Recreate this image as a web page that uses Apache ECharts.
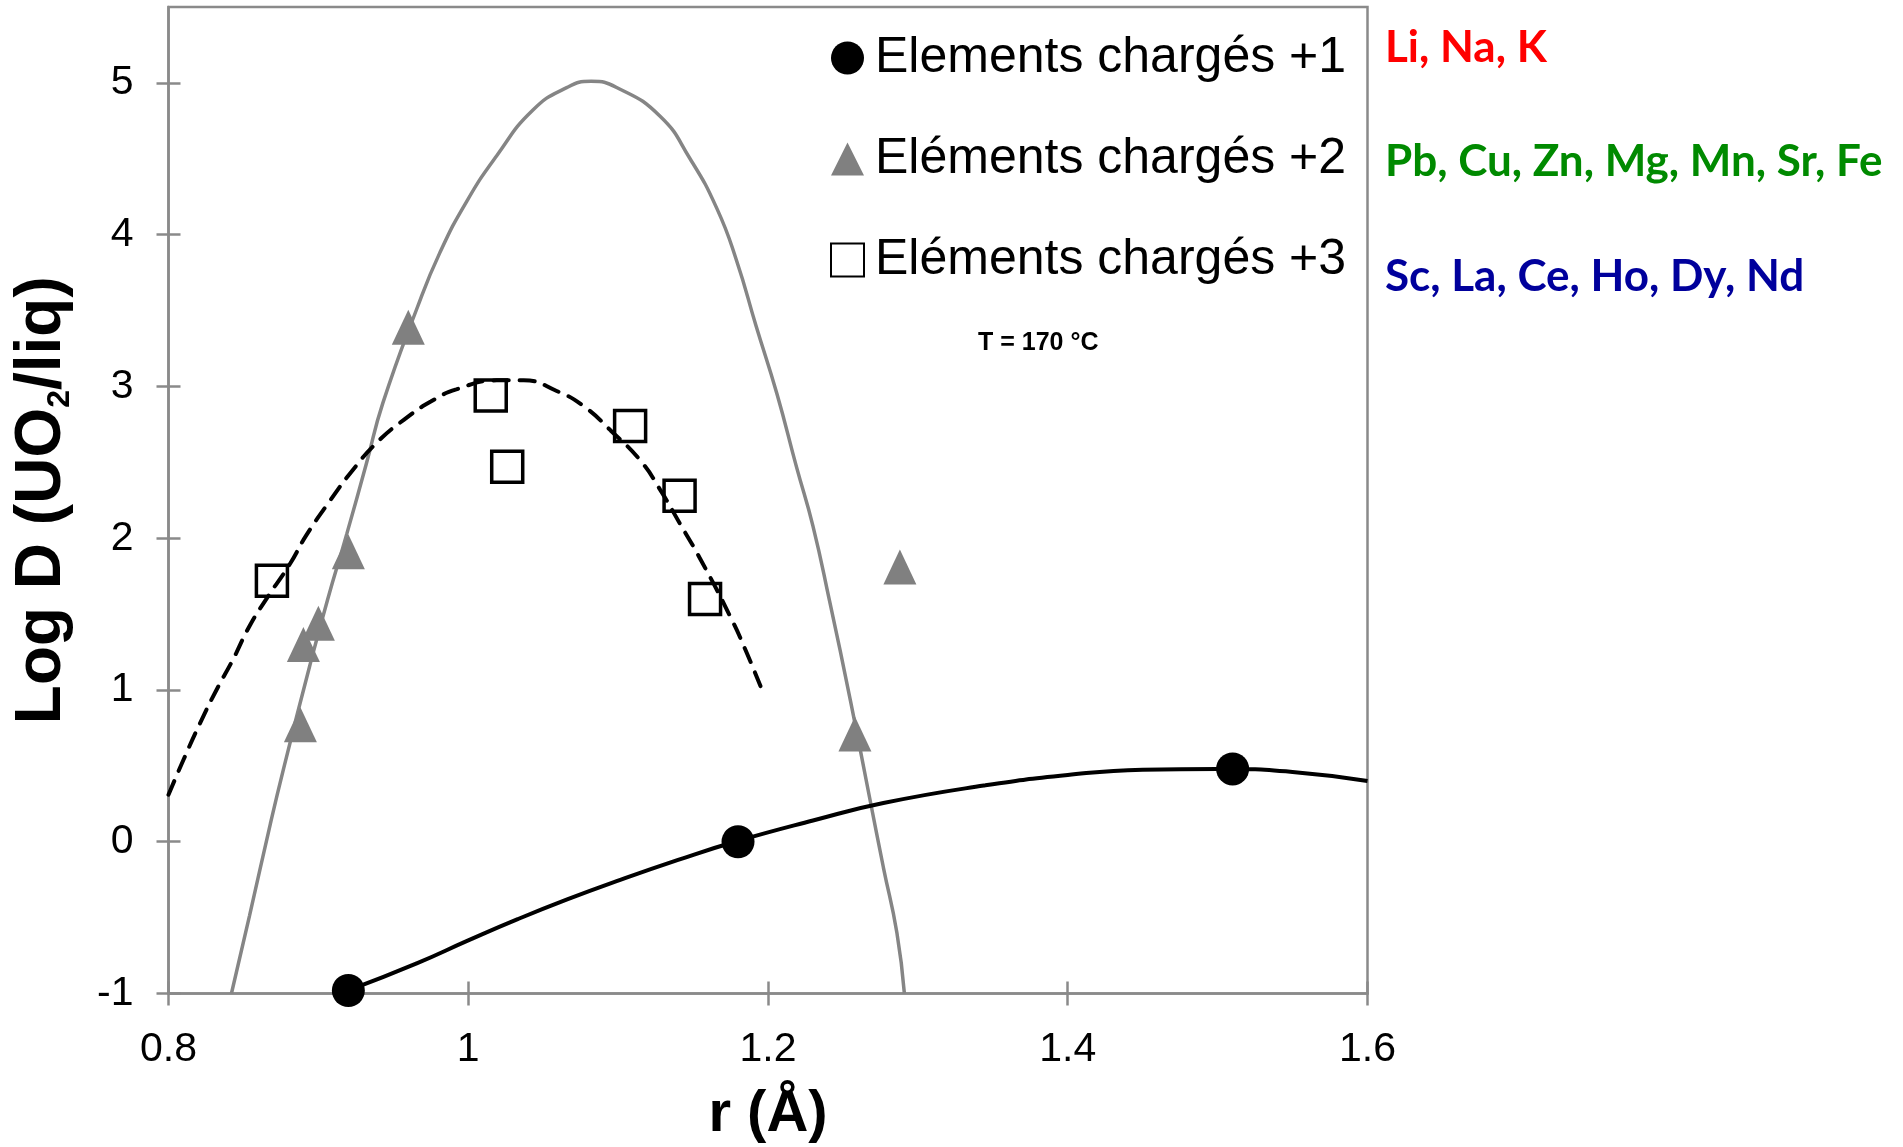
<!DOCTYPE html>
<html>
<head>
<meta charset="utf-8">
<title>Log D (UO2/liq) en fonction du rayon ionique</title>
<script src="https://cdn.jsdelivr.net/npm/echarts@6.0.0/dist/echarts.min.js"></script>
<style>
html, body { margin: 0; padding: 0; background: #ffffff; }
#chart { width: 1903px; height: 1147px; }
</style>
</head>
<body>
<div id="chart"></div>
<script>
// Axis ticks
const xTicks = [0.8, 1, 1.2, 1.4, 1.6];
const yTicks = [-1, 0, 1, 2, 3, 4, 5];

// Series names and annotations
const seriesNames = ['Elements chargés +1', 'Eléments chargés +2', 'Eléments chargés +3'];
const elementGroups = ['Li, Na, K', 'Pb, Cu, Zn, Mg, Mn, Sr, Fe', 'Sc, La, Ce, Ho, Dy, Nd'];
const groupColors = ['#ff0000', '#008a00', '#00009c'];
const tempLabel = 'T = 170 °C';

// Measured partition coefficients: ionic radius r (Å) and log D
const charge1R = [0.92, 1.18, 1.51];
const charge1LogD = [-0.98, 0.00, 0.48];
const charge2R = [0.888, 0.890, 0.900, 0.920, 0.960, 1.258, 1.288];
const charge2LogD = [0.77, 1.30, 1.44, 1.91, 3.39, 0.71, 1.81];
const charge3R = [0.869, 1.015, 1.026, 1.108, 1.141, 1.158];
const charge3LogD = [1.72, 2.94, 2.47, 2.74, 2.28, 1.60];

// Lattice-strain fits
const fit1R = [0.920, 0.966, 1.000, 1.033, 1.066, 1.099, 1.140, 1.178, 1.230, 1.277, 1.344, 1.400, 1.450, 1.500, 1.550, 1.600];
const fit1LogD = [-0.98, -0.80, -0.65, -0.51, -0.38, -0.26, -0.12, 0.00, 0.14, 0.255, 0.37, 0.44, 0.475, 0.48, 0.46, 0.40];
const fit2R = [0.842, 0.854, 0.868, 0.877, 0.894, 0.906, 0.919, 0.932, 0.943, 0.966, 0.981, 0.999, 1.019, 1.043, 1.066, 1.082, 1.099, 1.128, 1.148, 1.166, 1.179, 1.192, 1.206, 1.219, 1.230, 1.241, 1.255, 1.268, 1.277, 1.286, 1.291];
const fit2LogD = [-1.00, -0.49, 0.12, 0.49, 1.15, 1.59, 2.03, 2.49, 2.89, 3.52, 3.88, 4.22, 4.52, 4.82, 4.97, 5.01, 4.97, 4.78, 4.50, 4.17, 3.83, 3.40, 2.95, 2.47, 2.08, 1.59, 0.93, 0.28, -0.17, -0.60, -1.00];
const fit3R = [0.800, 0.810, 0.821, 0.832, 0.843, 0.854, 0.866, 0.881, 0.892, 0.908, 0.923, 0.939, 0.957, 0.975, 0.992, 1.019, 1.037, 1.059, 1.077, 1.095, 1.115, 1.128, 1.141, 1.155, 1.175, 1.186, 1.196];
const fit3LogD = [0.31, 0.54, 0.78, 1.00, 1.20, 1.42, 1.61, 1.83, 2.02, 2.25, 2.45, 2.63, 2.78, 2.90, 2.98, 3.04, 3.04, 2.97, 2.87, 2.71, 2.51, 2.32, 2.10, 1.86, 1.48, 1.24, 1.00];

const zip = (xs, ys) => xs.map((x, i) => [x, ys[i]]);

const axisGray = '#8a8a8a';
const font = '"Liberation Sans", Arial, sans-serif';
const gridBox = { left: 168.5, top: 7, width: 1199, height: 986.5 };
const axisLineStyle = { color: axisGray, width: 2.5 };

const chart = echarts.init(document.getElementById('chart'), null, { renderer: 'canvas' });

const option = {
  animation: false,
  backgroundColor: '#ffffff',
  textStyle: { fontFamily: font },
  grid: {
    left: gridBox.left, top: gridBox.top, width: gridBox.width, height: gridBox.height,
    show: true, borderColor: axisGray, borderWidth: 2.5, backgroundColor: 'transparent',
    containLabel: false, outerBoundsMode: 'none'
  },
  legend: {
    data: seriesNames,
    orient: 'vertical',
    left: 830, top: 30, padding: 0,
    itemWidth: 33, itemHeight: 33, itemGap: 45,
    selectedMode: false,
    textStyle: { fontSize: 50, color: '#000', fontFamily: font, lineHeight: 56, padding: [0, 0, 0, 6] }
  },
  xAxis: [
    {
      type: 'value', min: 0.8, max: 1.6, interval: 0.2, position: 'bottom',
      axisLine: { show: true, onZero: false, lineStyle: axisLineStyle },
      axisTick: { show: true, inside: false, length: 12, customValues: xTicks, lineStyle: axisLineStyle },
      axisLabel: { customValues: xTicks, fontSize: 41, color: '#000', fontFamily: font, margin: 36 },
      splitLine: { show: false },
      name: 'r (Å)', nameLocation: 'middle', nameGap: 92,
      nameTextStyle: { fontSize: 58, fontWeight: 'bold', color: '#000', fontFamily: font }
    },
    {
      // inner half of the crossing tick marks
      type: 'value', min: 0.8, max: 1.6, interval: 0.2, position: 'top', offset: -gridBox.height,
      axisLine: { show: false, onZero: false },
      axisTick: { show: true, inside: false, length: 12, customValues: xTicks, lineStyle: axisLineStyle },
      axisLabel: { show: false },
      splitLine: { show: false }
    }
  ],
  yAxis: [
    {
      type: 'value', min: -1, max: 5.5, interval: 1, position: 'left',
      axisLine: { show: true, onZero: false, lineStyle: axisLineStyle },
      axisTick: { show: true, inside: false, length: 12, customValues: yTicks, lineStyle: axisLineStyle },
      axisLabel: {
        customValues: yTicks, fontSize: 41, color: '#000', fontFamily: font, margin: 35,
        formatter: v => (Number.isInteger(v) ? String(v) : '')
      },
      splitLine: { show: false },
      name: '{m|Log D (UO}{s|2}{m|/liq)}', nameLocation: 'middle', nameRotate: 90, nameGap: 92,
      nameTextStyle: {
        color: '#000',
        rich: {
          m: { fontSize: 64, fontWeight: 'bold', fontFamily: font, color: '#000', lineHeight: 68 },
          s: { fontSize: 32, fontWeight: 'bold', fontFamily: font, color: '#000', lineHeight: 32, verticalAlign: 'bottom' }
        }
      }
    },
    {
      // inner half of the crossing tick marks
      type: 'value', min: -1, max: 5.5, interval: 1, position: 'right', offset: -gridBox.width,
      axisLine: { show: false, onZero: false },
      axisTick: { show: true, inside: false, length: 12, customValues: yTicks, lineStyle: axisLineStyle },
      axisLabel: { show: false },
      splitLine: { show: false }
    }
  ],
  series: [
    {
      name: 'fit +2', type: 'line', data: zip(fit2R, fit2LogD),
      showSymbol: false, smooth: 0.5, silent: true, z: 2,
      lineStyle: { color: '#858585', width: 3.5 }
    },
    {
      name: 'fit +3', type: 'line', data: zip(fit3R, fit3LogD),
      showSymbol: false, smooth: 0.5, silent: true, z: 2,
      lineStyle: { color: '#000', width: 4, type: [15, 11], cap: 'round' }
    },
    {
      name: 'fit +1', type: 'line', data: zip(fit1R, fit1LogD),
      showSymbol: false, smooth: 0.5, silent: true, z: 2,
      lineStyle: { color: '#000', width: 4 }
    },
    {
      name: seriesNames[1], type: 'scatter', data: zip(charge2R, charge2LogD),
      symbol: 'triangle', symbolSize: [33, 35], z: 3,
      itemStyle: { color: '#808080', opacity: 1 }
    },
    {
      name: seriesNames[2], type: 'scatter', data: zip(charge3R, charge3LogD),
      symbol: 'rect', symbolSize: 31, z: 3,
      itemStyle: { color: 'rgba(255,255,255,0)', borderColor: '#000', borderWidth: 3.5, opacity: 1 }
    },
    {
      name: seriesNames[0], type: 'scatter', data: zip(charge1R, charge1LogD),
      symbol: 'circle', symbolSize: 33, z: 4,
      itemStyle: { color: '#000', opacity: 1 }
    }
  ],
  graphic: [
    {
      type: 'text', x: 1385, y: 48, silent: true,
      style: { text: elementGroups[0], fill: groupColors[0], fontSize: 44, fontWeight: 'bold', fontFamily: 'Lato, sans-serif', align: 'left', verticalAlign: 'middle' }
    },
    {
      type: 'text', x: 1385, y: 162, silent: true,
      style: { text: elementGroups[1], fill: groupColors[1], fontSize: 44, fontWeight: 'bold', fontFamily: 'Lato, sans-serif', align: 'left', verticalAlign: 'middle' }
    },
    {
      type: 'text', x: 1385, y: 277, silent: true,
      style: { text: elementGroups[2], fill: groupColors[2], fontSize: 44, fontWeight: 'bold', fontFamily: 'Lato, sans-serif', align: 'left', verticalAlign: 'middle' }
    },
    {
      type: 'text', x: 978, y: 343, silent: true,
      style: { text: tempLabel, fill: '#000', fontSize: 25, fontWeight: 'bold', fontFamily: font, align: 'left', verticalAlign: 'middle' }
    }
  ]
};

chart.setOption(option);
</script>
</body>
</html>
